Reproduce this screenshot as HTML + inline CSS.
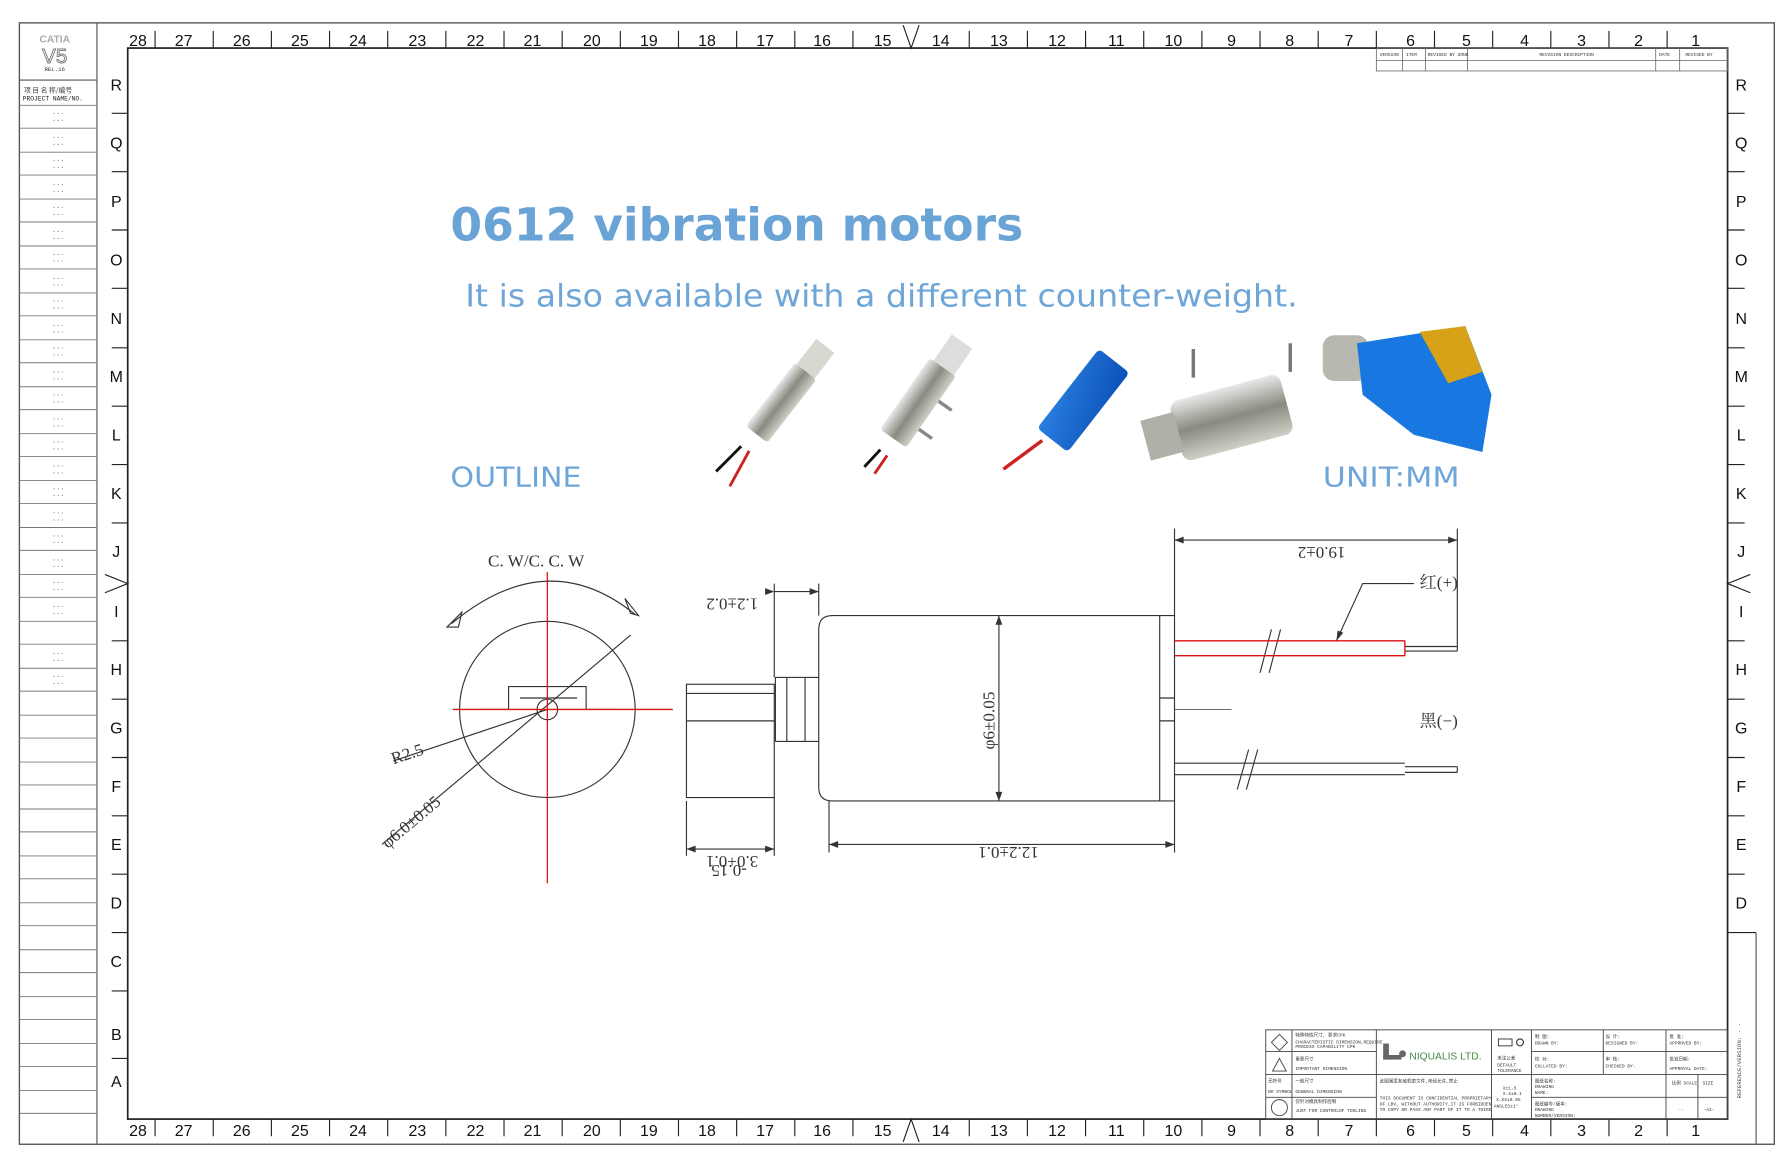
<!DOCTYPE html>
<html><head><meta charset="utf-8"><style>
html,body{margin:0;padding:0;background:#fff;}
svg{display:block;}
.n{font-family:"Liberation Sans",sans-serif;font-size:14px;fill:#111;text-anchor:middle;}
.s{font-family:"Liberation Mono",monospace;font-size:4px;fill:#333;}
.d{font-family:"Liberation Serif","Noto Serif CJK SC",serif;font-size:15px;fill:#333;}
</style></head><body>
<svg width="1788" height="1166" viewBox="0 0 1568 1019" preserveAspectRatio="none" xmlns="http://www.w3.org/2000/svg">
<defs>
<linearGradient id="met" x1="0" y1="0" x2="0" y2="1"><stop offset="0" stop-color="#e8e8e8"/><stop offset=".5" stop-color="#8a8a80"/><stop offset="1" stop-color="#d0d0c8"/></linearGradient>
<linearGradient id="blu" x1="0" y1="0" x2="1" y2="1"><stop offset="0" stop-color="#2a7fe0"/><stop offset="1" stop-color="#0b50b8"/></linearGradient>
</defs>
<rect width="1568" height="1019" fill="#fff"/>
<rect x="17" y="20" width="1539" height="980" fill="none" stroke="#555" stroke-width="1.2"/>
<line x1="85" y1="20" x2="85" y2="1000" stroke="#555"/>
<rect x="112" y="42" width="1403" height="936" fill="none" stroke="#222" stroke-width="1.5"/>
<line x1="1540" y1="815" x2="1540" y2="1000" stroke="#555"/>
<text x="48" y="37" font-family="Liberation Sans" font-size="9" fill="#aaa" text-anchor="middle" font-weight="bold">CATIA</text>
<text x="48" y="55" font-family="Liberation Sans" font-size="18" fill="#fff" stroke="#777" stroke-width=".8" text-anchor="middle">V5</text>
<text x="48" y="62" font-family="Liberation Mono" font-size="5" fill="#333" text-anchor="middle">REL.16</text>
<line x1="17" y1="70" x2="85" y2="70" stroke="#555"/>
<text x="21" y="81" font-family="Noto Sans CJK SC" font-size="6" fill="#444">项 目 名 称/编号</text>
<text x="20" y="88" font-family="Liberation Mono" font-size="5.5" fill="#222">PROJECT NAME/NO.</text>
<g stroke="#777" stroke-width=".8">
<line x1="17" y1="92" x2="85" y2="92"/><line x1="17" y1="112" x2="85" y2="112"/><line x1="17" y1="133" x2="85" y2="133"/><line x1="17" y1="153" x2="85" y2="153"/><line x1="17" y1="174" x2="85" y2="174"/><line x1="17" y1="194" x2="85" y2="194"/><line x1="17" y1="215" x2="85" y2="215"/><line x1="17" y1="235" x2="85" y2="235"/><line x1="17" y1="256" x2="85" y2="256"/><line x1="17" y1="276" x2="85" y2="276"/><line x1="17" y1="297" x2="85" y2="297"/><line x1="17" y1="317" x2="85" y2="317"/><line x1="17" y1="338" x2="85" y2="338"/><line x1="17" y1="358" x2="85" y2="358"/><line x1="17" y1="379" x2="85" y2="379"/><line x1="17" y1="399" x2="85" y2="399"/><line x1="17" y1="420" x2="85" y2="420"/><line x1="17" y1="440" x2="85" y2="440"/><line x1="17" y1="461" x2="85" y2="461"/><line x1="17" y1="481" x2="85" y2="481"/><line x1="17" y1="502" x2="85" y2="502"/><line x1="17" y1="522" x2="85" y2="522"/><line x1="17" y1="543" x2="85" y2="543"/><line x1="17" y1="563" x2="85" y2="563"/><line x1="17" y1="584" x2="85" y2="584"/><line x1="17" y1="604" x2="85" y2="604"/><line x1="17" y1="625" x2="85" y2="625"/><line x1="17" y1="645" x2="85" y2="645"/><line x1="17" y1="666" x2="85" y2="666"/><line x1="17" y1="686" x2="85" y2="686"/><line x1="17" y1="707" x2="85" y2="707"/><line x1="17" y1="727" x2="85" y2="727"/><line x1="17" y1="748" x2="85" y2="748"/><line x1="17" y1="768" x2="85" y2="768"/><line x1="17" y1="789" x2="85" y2="789"/><line x1="17" y1="809" x2="85" y2="809"/><line x1="17" y1="830" x2="85" y2="830"/><line x1="17" y1="850" x2="85" y2="850"/><line x1="17" y1="871" x2="85" y2="871"/><line x1="17" y1="891" x2="85" y2="891"/><line x1="17" y1="912" x2="85" y2="912"/><line x1="17" y1="932" x2="85" y2="932"/><line x1="17" y1="953" x2="85" y2="953"/><line x1="17" y1="973" x2="85" y2="973"/>
</g>
<g font-family="Liberation Mono" font-size="6" fill="#666" text-anchor="middle">
<text x="51" y="101">···</text><text x="51" y="107">···</text><text x="51" y="122">···</text><text x="51" y="128">···</text><text x="51" y="142">···</text><text x="51" y="148">···</text><text x="51" y="163">···</text><text x="51" y="169">···</text><text x="51" y="183">···</text><text x="51" y="189">···</text><text x="51" y="204">···</text><text x="51" y="210">···</text><text x="51" y="224">···</text><text x="51" y="230">···</text><text x="51" y="245">···</text><text x="51" y="251">···</text><text x="51" y="265">···</text><text x="51" y="271">···</text><text x="51" y="286">···</text><text x="51" y="292">···</text><text x="51" y="306">···</text><text x="51" y="312">···</text><text x="51" y="327">···</text><text x="51" y="333">···</text><text x="51" y="347">···</text><text x="51" y="353">···</text><text x="51" y="368">···</text><text x="51" y="374">···</text><text x="51" y="388">···</text><text x="51" y="394">···</text><text x="51" y="409">···</text><text x="51" y="415">···</text><text x="51" y="429">···</text><text x="51" y="435">···</text><text x="51" y="450">···</text><text x="51" y="456">···</text><text x="51" y="470">···</text><text x="51" y="476">···</text><text x="51" y="491">···</text><text x="51" y="497">···</text><text x="51" y="511">···</text><text x="51" y="517">···</text><text x="51" y="532">···</text><text x="51" y="538">···</text><text x="51" y="573">···</text><text x="51" y="579">···</text><text x="51" y="593">···</text><text x="51" y="599">···</text>
</g>
<g class="n">
<text x="121" y="40">28</text><text x="161" y="40">27</text><text x="212" y="40">26</text><text x="263" y="40">25</text><text x="314" y="40">24</text><text x="366" y="40">23</text><text x="417" y="40">22</text><text x="467" y="40">21</text><text x="519" y="40">20</text><text x="569" y="40">19</text><text x="620" y="40">18</text><text x="671" y="40">17</text><text x="721" y="40">16</text><text x="774" y="40">15</text><text x="825" y="40">14</text><text x="876" y="40">13</text><text x="927" y="40">12</text><text x="979" y="40">11</text><text x="1029" y="40">10</text><text x="1080" y="40">9</text><text x="1131" y="40">8</text><text x="1183" y="40">7</text><text x="1237" y="40">6</text><text x="1286" y="40">5</text><text x="1337" y="40">4</text><text x="1387" y="40">3</text><text x="1437" y="40">2</text><text x="1487" y="40">1</text>
<text x="121" y="993">28</text><text x="161" y="993">27</text><text x="212" y="993">26</text><text x="263" y="993">25</text><text x="314" y="993">24</text><text x="366" y="993">23</text><text x="417" y="993">22</text><text x="467" y="993">21</text><text x="519" y="993">20</text><text x="569" y="993">19</text><text x="620" y="993">18</text><text x="671" y="993">17</text><text x="721" y="993">16</text><text x="774" y="993">15</text><text x="825" y="993">14</text><text x="876" y="993">13</text><text x="927" y="993">12</text><text x="979" y="993">11</text><text x="1029" y="993">10</text><text x="1080" y="993">9</text><text x="1131" y="993">8</text><text x="1183" y="993">7</text><text x="1237" y="993">6</text><text x="1286" y="993">5</text><text x="1337" y="993">4</text><text x="1387" y="993">3</text><text x="1437" y="993">2</text><text x="1487" y="993">1</text>
</g>
<g stroke="#222" stroke-width="1">
<path d="M136 27V42M187 27V42M238 27V42M289 27V42M340 27V42M391 27V42M442 27V42M493 27V42M544 27V42M595 27V42M646 27V42M697 27V42M748 27V42M850 27V42M901 27V42M952 27V42M1003 27V42M1054 27V42M1105 27V42M1156 27V42M1207 27V42M1258 27V42M1309 27V42M1360 27V42M1411 27V42M1462 27V42"/>
<path d="M136 978V993M187 978V993M238 978V993M289 978V993M340 978V993M391 978V993M442 978V993M493 978V993M544 978V993M595 978V993M646 978V993M697 978V993M748 978V993M850 978V993M901 978V993M952 978V993M1003 978V993M1054 978V993M1105 978V993M1156 978V993M1207 978V993M1258 978V993M1309 978V993M1360 978V993M1411 978V993M1462 978V993"/>
<path d="M792 22L799 42L806 22M792 998L799 978L806 998" fill="none"/>
<path d="M92 502L112 510L92 518M1535 502L1515 510L1535 518" fill="none"/>
<path d="M98 99H112M98 150H112M98 201H112M98 252H112M98 304H112M98 355H112M98 406H112M98 457H112M98 560H112M98 611H112M98 662H112M98 713H112M98 764H112M98 815H112M98 866H112M98 925H112"/>
<path d="M1515 99H1530M1515 150H1530M1515 201H1530M1515 252H1530M1515 304H1530M1515 355H1530M1515 406H1530M1515 457H1530M1515 560H1530M1515 611H1530M1515 662H1530M1515 713H1530M1515 764H1530M1515 815H1540"/>
</g>
<g class="n">
<text x="102" y="79">R</text><text x="102" y="130">Q</text><text x="102" y="181">P</text><text x="102" y="232">O</text><text x="102" y="283">N</text><text x="102" y="334">M</text><text x="102" y="385">L</text><text x="102" y="436">K</text><text x="102" y="487">J</text><text x="102" y="539">I</text><text x="102" y="590">H</text><text x="102" y="641">G</text><text x="102" y="692">F</text><text x="102" y="743">E</text><text x="102" y="794">D</text><text x="102" y="845">C</text><text x="102" y="909">B</text><text x="102" y="950">A</text>
<text x="1527" y="79">R</text><text x="1527" y="130">Q</text><text x="1527" y="181">P</text><text x="1527" y="232">O</text><text x="1527" y="283">N</text><text x="1527" y="334">M</text><text x="1527" y="385">L</text><text x="1527" y="436">K</text><text x="1527" y="487">J</text><text x="1527" y="539">I</text><text x="1527" y="590">H</text><text x="1527" y="641">G</text><text x="1527" y="692">F</text><text x="1527" y="743">E</text><text x="1527" y="794">D</text>
</g>
<text transform="translate(1527 960) rotate(-90)" font-family="Liberation Mono" font-size="5" fill="#444">REFERENCE/VERSION: · ·</text>
<g stroke="#666" stroke-width=".7" fill="none">
<rect x="1207" y="42" width="308" height="20"/><line x1="1207" y1="53" x2="1515" y2="53"/>
<path d="M1230 42V62M1250 42V62M1287 42V62M1452 42V62M1473 42V62"/>
</g>
<g class="s"><text x="1210" y="49">VERSION</text><text x="1233" y="49">ITEM</text><text x="1252" y="49">REVISED BY ZONE</text><text x="1350" y="49">REVISION DESCRIPTION</text><text x="1455" y="49">DATE</text><text x="1478" y="49">REVISED BY</text></g>
<g stroke="#444" stroke-width=".8" fill="none">
<rect x="1110" y="900" width="405" height="78"/>
<path d="M1110 919H1207M1110 939H1515M1110 959H1207M1133 900V978M1207 900V978M1308 900V978M1343 900V978M1406 900V939M1461 900V978M1343 919H1515M1343 959H1515M1489 939V978"/>
<path d="M1122 904L1129 911L1122 918L1115 911Z"/><path d="M1116 936L1122 925L1128 936Z"/><circle cx="1122" cy="968" r="7"/>
</g>
<g class="s" font-size="4">
<text x="1136" y="906">特殊特性尺寸, 要求CPK</text><text x="1136" y="912">CHARACTERISTIC DIMENSION,REQUIRE</text><text x="1136" y="916">PROCESS CAPABILITY CPK</text>
<text x="1136" y="927">重要尺寸</text><text x="1136" y="935">IMPORTANT DIMENSION</text>
<text x="1112" y="946">无符号</text><text x="1112" y="955">NO SYMBOL</text><text x="1136" y="946">一般尺寸</text><text x="1136" y="955">GENERAL DIMENSION</text>
<text x="1136" y="964">仅针对模具制作控制</text><text x="1136" y="972">JUST FOR CONTROLOF TOOLING</text>
<text x="1210" y="946">此图属爱友威机密文件,未经允许,禁止</text><text x="1210" y="961">THIS DOCUMENT IS CONFIDENTIAL PROPRIETARY</text><text x="1210" y="966">OF LBV, WITHOUT AUTHORITY,IT IS FORBIDDEN</text><text x="1210" y="971">TO COPY OR PASS ANY PART OF IT TO A THIRD</text>
<text x="1313" y="926">未注公差</text><text x="1313" y="932">DEFAULT</text><text x="1313" y="937">TOLERANCE</text>
<text x="1318" y="952">X±1.5</text><text x="1318" y="957">X.X±0.1</text><text x="1312" y="962">X.XX±0.05</text><text x="1310" y="968">ANGLES±1°</text>
<text x="1346" y="907">制 图:</text><text x="1346" y="913">DRAWN BY:</text><text x="1408" y="907">设 计:</text><text x="1408" y="913">DESIGNED BY:</text><text x="1464" y="907">批 准:</text><text x="1464" y="913">APPROVED BY:</text>
<text x="1346" y="927">校 对:</text><text x="1346" y="933">COLLATED BY:</text><text x="1408" y="927">审 核:</text><text x="1408" y="933">CHECKED BY:</text><text x="1464" y="927">批准日期:</text><text x="1464" y="935">APPROVAL DATE:</text>
<text x="1346" y="946">图纸名称:</text><text x="1346" y="951">DRAWING</text><text x="1346" y="956">NAME:</text><text x="1466" y="948">比例 SCALE</text><text x="1493" y="948">SIZE</text>
<text x="1346" y="966">图纸编号/版本:</text><text x="1346" y="971">DRAWING</text><text x="1346" y="976">NUMBER/VERSION:</text><text x="1472" y="971">··</text><text x="1494" y="971">-A1-</text>
</g>
<rect x="1213" y="912" width="5" height="14" fill="#666"/><rect x="1213" y="922" width="16" height="4" fill="#666"/><circle cx="1230" cy="921" r="3" fill="#666"/>
<text x="1236" y="926" font-family="Liberation Sans" font-size="9" fill="#4a8a4a">NIQUALIS LTD.</text>
<rect x="1314" y="908" width="12" height="6" fill="none" stroke="#333" stroke-width=".8"/><circle cx="1333" cy="911" r="3" fill="none" stroke="#333"/>
<text x="395" y="210" font-family="DejaVu Sans" font-weight="bold" font-size="40" fill="#6aa3d5">0612 vibration motors</text>
<text x="408" y="268" font-family="DejaVu Sans" font-size="27" fill="#6ea6d8" textLength="730" lengthAdjust="spacingAndGlyphs">It is also available with a different counter-weight.</text>
<text x="395" y="425" font-family="DejaVu Sans" font-size="24" fill="#6ea6d8" textLength="115" lengthAdjust="spacingAndGlyphs">OUTLINE</text>
<text x="1160" y="425" font-family="DejaVu Sans" font-size="24" fill="#6ea6d8" textLength="120" lengthAdjust="spacingAndGlyphs">UNIT:MM</text>
<g transform="translate(685 352) rotate(-52)"><rect x="-35" y="-12" width="70" height="24" rx="3" fill="url(#met)"/><rect x="35" y="-10" width="28" height="20" fill="#d8d8d0"/></g>
<path d="M650 390L628 412" stroke="#111" stroke-width="2.5"/><path d="M657 394L640 425" stroke="#c22" stroke-width="2.5"/>
<g transform="translate(805 352) rotate(-55)"><rect x="-38" y="-14" width="76" height="28" rx="3" fill="url(#met)"/><rect x="38" y="-10" width="28" height="22" fill="#ddd"/><rect x="-20" y="14" width="3" height="14" fill="#888"/><rect x="10" y="14" width="3" height="14" fill="#888"/></g>
<path d="M772 393L758 408" stroke="#111" stroke-width="2.5"/><path d="M778 398L767 414" stroke="#c22" stroke-width="2.5"/>
<g transform="translate(950 350) rotate(-52)"><rect x="-44" y="-17" width="88" height="34" rx="4" fill="url(#blu)"/></g>
<path d="M914 385L880 410" stroke="#c22" stroke-width="3"/>
<g transform="translate(1080 365) rotate(-15)"><rect x="-50" y="-27" width="100" height="54" rx="8" fill="url(#met)"/><rect x="-78" y="-18" width="30" height="36" fill="#b0b0a8"/></g>
<rect x="1045" y="305" width="3" height="25" fill="#777"/><rect x="1130" y="300" width="3" height="25" fill="#777"/>
<rect x="1160" y="293" width="40" height="40" rx="10" fill="#b8b8b0"/>
<path d="M1190 300L1285 285L1308 345L1300 395L1240 380L1195 345Z" fill="#1877e0"/><path d="M1245 290L1285 285L1300 325L1270 335Z" fill="#d7a218"/>
<g stroke="#333" stroke-width="1" fill="none">
<circle cx="480" cy="620" r="77"/>
<path d="M417 620H446V600H514V620H543"/>
<path d="M456 610H506"/>
<circle cx="480" cy="620" r="9"/>
<path d="M396 545Q480 475 557 537"/>
<path d="M392 548L405 535L402 548Z"/><path d="M560 538L548 523L553 536Z"/>
<path d="M335 738L553 555"/><path d="M345 665L480 620"/>
</g>
<path d="M397 620H590M480 500V772" stroke="#d11" stroke-width="1.1"/>
<text x="428" y="495" class="d" font-size="17">C. W/C. C. W</text>
<text transform="translate(345 668) rotate(-18)" class="d">R2.5</text>
<text transform="translate(340 742) rotate(-40)" class="d">φ6.0±0.05</text>
<g stroke="#333" stroke-width="1" fill="none">
<rect x="602" y="598" width="77" height="99"/>
<path d="M602 606H679M602 630H679M680 648V592H718M690 592V648M706 592V648M680 648H718"/>
<path d="M730 538H1030V700H730Q718 700 718 688V550Q718 538 730 538Z"/>
<path d="M1017 538V700M1017 610H1030M1017 630H1030"/>
<path d="M1030 677H1232M1030 667H1232M1232 670H1278M1232 675H1278M1278 670V675"/>
<path d="M1232 565H1278M1232 569H1278M1278 565V569"/>
<path d="M1085 690L1095 655M1093 690L1103 655M1105 588L1115 550M1113 588L1123 550"/>
<path d="M1030 462V538M1278 462V565M1030 472H1278M679 510V592M718 510V538M679 517H718M602 700V748M679 697V748M602 742H679M727 700V745M727 738H1030M1030 700V745M876 538V700M1172 560L1195 510H1240"/>
</g>
<path d="M1030 560H1232M1030 573H1232M1232 560V573" stroke="#d11" stroke-width="1.2" fill="none"/>
<path d="M1030 620H1080" stroke="#555" stroke-width=".8"/>
<g fill="#333"><path d="M1030 472l8-3v6zM1278 472l-8-3v6zM679 517l-8-3v6zM718 517l-8-3v6zM602 742l8-3v6zM679 742l-8-3v6zM727 738l8-3v6zM1030 738l-8-3v6zM876 538l-3 8h6zM876 700l-3-8h6zM1172 560l1-9 5 2z"/></g>
<text transform="translate(1180 478) rotate(180)" class="d">19.0±2</text>
<text transform="translate(665 523) rotate(180)" class="d">1.2±0.2</text>
<text transform="translate(911 740) rotate(180)" class="d">12.2±0.1</text>
<text transform="translate(665 748) rotate(180)" class="d">3.0+0.1</text>
<text transform="translate(655 756) rotate(180)" class="d" font-size="10">-0.15</text>
<text transform="translate(872 655) rotate(-90)" class="d">φ6±0.05</text>
<text x="1245" y="514" class="d">红(+)</text>
<text x="1245" y="635" class="d">黑(−)</text>
</svg>
</body></html>
